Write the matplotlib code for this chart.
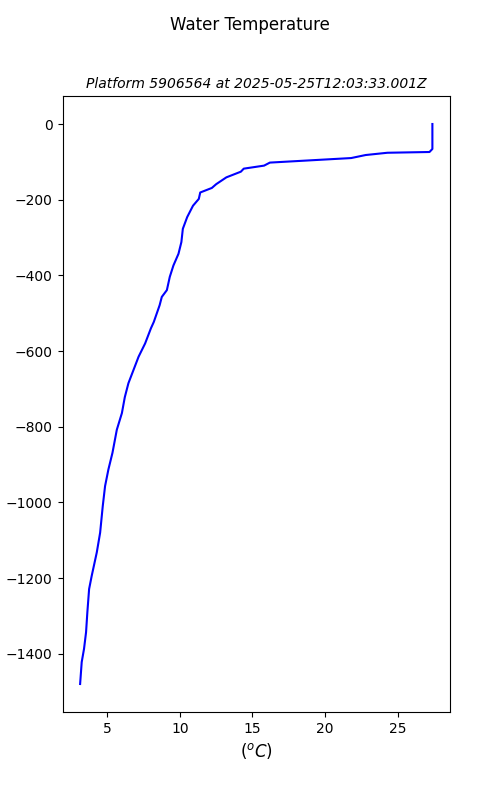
import numpy as np
import matplotlib
matplotlib.use("Agg")
import matplotlib.pyplot as plt

# temperature profile
depth = [0, -66, -74, -76, -82, -90, -102, -110, -118, -126, -141, -159, -169,
         -181, -198, -216, -246, -277, -312, -343, -374, -404, -439, -457, -479,
         -523, -540, -580, -615, -650, -685, -722, -764, -808, -869, -913, -957,
         -1010, -1080, -1132, -1194, -1229, -1290, -1343, -1387, -1422, -1480]
temp = [27.4, 27.4, 27.2, 24.3, 22.8, 21.8, 16.2, 15.8, 14.4, 14.2, 13.2, 12.5, 12.2,
        11.4, 11.3, 10.9, 10.5, 10.2, 10.1, 9.9, 9.55, 9.3, 9.1, 8.75, 8.6,
        8.2, 8.0, 7.6, 7.15, 6.8, 6.45, 6.2, 6.0, 5.65, 5.35, 5.07, 4.84,
        4.68, 4.5, 4.27, 3.92, 3.74, 3.62, 3.53, 3.39, 3.23, 3.12]

fig = plt.figure(figsize=(5, 8), dpi=100)
ax = fig.add_subplot(111)
ax.plot(temp, depth, color="blue")
fig.suptitle("Water Temperature")
ax.set_title("Platform 5906564 at 2025-05-25T12:03:33.001Z", fontsize=10, style="italic")
ax.set_ylabel("depth (m)")
ax.set_xlabel("$(^oC)$", fontsize=12)
plt.savefig("out.png")
plt.close(fig)
